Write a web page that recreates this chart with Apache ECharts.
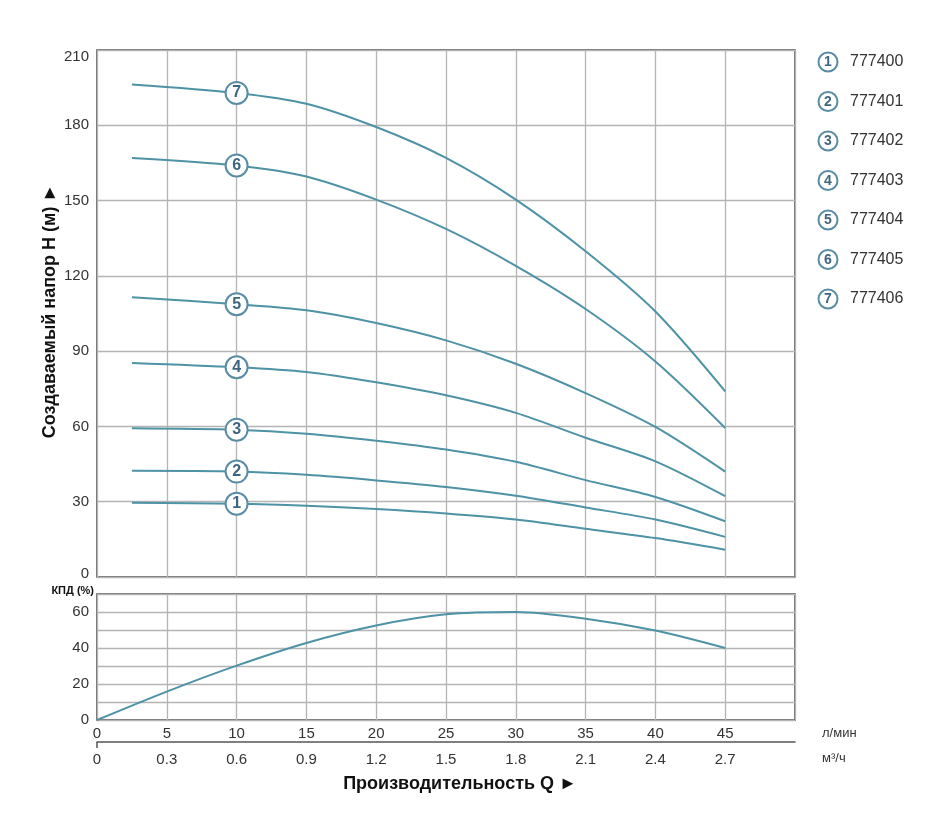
<!DOCTYPE html>
<html>
<head>
<meta charset="utf-8">
<script src="https://cdn.jsdelivr.net/npm/echarts@6/dist/echarts.min.js"></script>
<style>
html,body{margin:0;padding:0;background:#fff;}
#chart{width:935px;height:822px;}
</style>
</head>
<body>
<div id="chart"></div>
<script>
// ---- data ----
const flowLpm = [2.5, 10, 15, 20, 25, 30, 35, 40, 45];
const head1 = [29.6, 29.2, 28.4, 27.1, 25.3, 22.9, 19.2, 15.5, 10.9];
const head2 = [42.3, 42.0, 40.7, 38.5, 35.9, 32.4, 27.7, 22.9, 16.0];
const head3 = [59.3, 58.7, 57.1, 54.3, 50.8, 45.9, 38.6, 31.9, 22.2];
const head4 = [85.3, 83.6, 81.7, 77.6, 72.4, 65.4, 55.5, 46.1, 32.2];
const head5 = [111.5, 108.7, 106.3, 101.2, 94.3, 85.0, 73.3, 59.8, 42.0];
const head6 = [167.0, 164.0, 159.6, 150.4, 138.7, 124.0, 106.8, 85.9, 59.4];
const head7 = [196.3, 192.9, 188.6, 179.3, 167.0, 150.4, 129.8, 105.8, 74.0];
const effFlow = [0, 5, 10, 15, 20, 25, 30, 35, 40, 45];
const efficiency = [0, 15.8, 30.2, 42.8, 52.5, 58.7, 60.0, 56.3, 49.7, 40.0];
const models = ['777400', '777401', '777402', '777403', '777404', '777405', '777406'];
const markerFlow = 10;
const headTicks = [0, 30, 60, 90, 120, 150, 180, 210];

const heads = [head1, head2, head3, head4, head5, head6, head7];

// ---- styles ----
const FONT = "'Liberation Sans', Arial, sans-serif";
const LINE = '#4e92a5';
const RING = '#5a8ca3';
const NUM = '#3f6680';
const GRIDC = '#b4b4b4';
const TXT = '#333';

const chart = echarts.init(document.getElementById('chart'), null, {renderer: 'canvas'});

const series = [];
heads.forEach((h, i) => {
  series.push({
    type: 'line', xAxisIndex: 0, yAxisIndex: 0,
    data: flowLpm.map((q, k) => [q, h[k]]),
    smooth: 0.3, showSymbol: false, silent: true,
    lineStyle: {color: LINE, width: 2}, z: 3
  });
});
const mIdx = flowLpm.indexOf(markerFlow);
series.push({
  type: 'scatter', xAxisIndex: 0, yAxisIndex: 0, z: 5, silent: true,
  data: heads.map((h, i) => ({value: [flowLpm[mIdx], h[mIdx]], name: String(i + 1)})),
  symbol: 'circle', symbolSize: 22,
  itemStyle: {color: '#fff', borderColor: RING, borderWidth: 2, opacity: 1},
  label: {show: true, position: 'inside', formatter: p => p.name,
    fontSize: 16, fontWeight: 'bold', fontFamily: FONT, color: NUM}
});
series.push({
  type: 'line', xAxisIndex: 1, yAxisIndex: 1,
  data: effFlow.map((q, k) => [q, efficiency[k]]),
  smooth: 0.3, showSymbol: false, silent: true,
  lineStyle: {color: LINE, width: 2}
});

// legend graphics
const legendEls = [];
models.forEach((m, i) => {
  const cy = 62 + i * 39.5;
  legendEls.push({type: 'circle', shape: {cx: 828, cy: cy, r: 9.5},
    style: {fill: '#fff', stroke: RING, lineWidth: 2}});
  legendEls.push({type: 'text', x: 828, y: cy + 0.5,
    style: {text: String(i + 1), font: 'bold 14px ' + FONT, fill: NUM, textAlign: 'center', textVerticalAlign: 'middle'}});
  legendEls.push({type: 'text', x: 850, y: cy,
    style: {text: m, font: '16px ' + FONT, fill: TXT, textAlign: 'left', textVerticalAlign: 'middle'}});
});

const option = {
  animation: false,
  backgroundColor: '#fff',
  grid: [
    {left: 97, top: 50, width: 698, height: 527, show: true, borderColor: '#444', borderWidth: 1.5, backgroundColor: 'transparent'},
    {left: 97, top: 594, width: 698, height: 126, show: true, borderColor: '#444', borderWidth: 1.5, backgroundColor: 'transparent'}
  ],
  xAxis: [
    {type: 'value', gridIndex: 0, min: 0, max: 50, interval: 5,
      axisLine: {show: false}, axisTick: {show: false}, axisLabel: {show: false},
      splitLine: {show: true, lineStyle: {color: GRIDC, width: 1.3}}},
    {type: 'value', gridIndex: 1, min: 0, max: 50, interval: 5,
      axisLine: {show: false}, axisTick: {show: false},
      axisLabel: {show: true, margin: 6, fontSize: 15, fontFamily: FONT, color: TXT,
        formatter: v => v > 45 ? '' : String(v)},
      splitLine: {show: true, lineStyle: {color: GRIDC, width: 1.3}}},
    {type: 'value', gridIndex: 1, min: 0, max: 3, interval: 0.3, position: 'bottom', offset: 22,
      axisLine: {show: true, onZero: false, lineStyle: {color: '#555', width: 1.5}},
      axisTick: {show: false},
      axisLabel: {show: true, margin: 10, fontSize: 15, fontFamily: FONT, color: TXT,
        formatter: v => v > 2.75 ? '' : (v === 0 ? '0' : v.toFixed(1))},
      splitLine: {show: false}}
  ],
  yAxis: [
    {type: 'value', gridIndex: 0, min: headTicks[0], max: headTicks[headTicks.length - 1], interval: 30,
      axisLine: {show: false}, axisTick: {show: false},
      axisLabel: {margin: 8, fontSize: 15, fontFamily: FONT, color: TXT,
        formatter: v => v === 210 ? '{t|210}' : (v === 0 ? '{b|0}' : String(v)),
        rich: {t: {padding: [14, 0, 0, 0], fontSize: 15, fontFamily: FONT, color: TXT},
               b: {padding: [0, 0, 6, 0], fontSize: 15, fontFamily: FONT, color: TXT}}},
      splitLine: {show: true, lineStyle: {color: GRIDC, width: 1.3}}},
    {type: 'value', gridIndex: 1, min: 0, max: 70, interval: 10,
      axisLine: {show: false}, axisTick: {show: false},
      axisLabel: {margin: 8, fontSize: 15, fontFamily: FONT, color: TXT,
        formatter: v => (v % 20 === 0 && v <= 60) ? String(v) : ''},
      splitLine: {show: true, lineStyle: {color: GRIDC, width: 1.3}}}
  ],
  series: series,
  graphic: [
    {type: 'text', x: 50, y: 311, rotation: Math.PI / 2,
      style: {text: 'Создаваемый напор H (м) ►', font: 'bold 18px ' + FONT, fill: '#111', textAlign: 'center', textVerticalAlign: 'middle'}},
    {type: 'text', x: 94, y: 591,
      style: {text: 'КПД (%)', font: 'bold 11px ' + FONT, fill: '#111', textAlign: 'right', textVerticalAlign: 'middle'}},
    {type: 'text', x: 460, y: 784,
      style: {text: 'Производительность Q ►', font: 'bold 18px ' + FONT, fill: '#111', textAlign: 'center', textVerticalAlign: 'middle'}},
    {type: 'text', x: 822, y: 733,
      style: {text: 'л/мин', font: '13px ' + FONT, fill: TXT, textAlign: 'left', textVerticalAlign: 'middle'}},
    {type: 'text', x: 822, y: 758,
      style: {text: 'м³/ч', font: '13px ' + FONT, fill: TXT, textAlign: 'left', textVerticalAlign: 'middle'}},
    {type: 'line', shape: {x1: 97, y1: 742, x2: 97, y2: 748}, style: {stroke: '#555', lineWidth: 1.5}}
  ].concat(legendEls)
};
chart.setOption(option);
</script>
</body>
</html>
